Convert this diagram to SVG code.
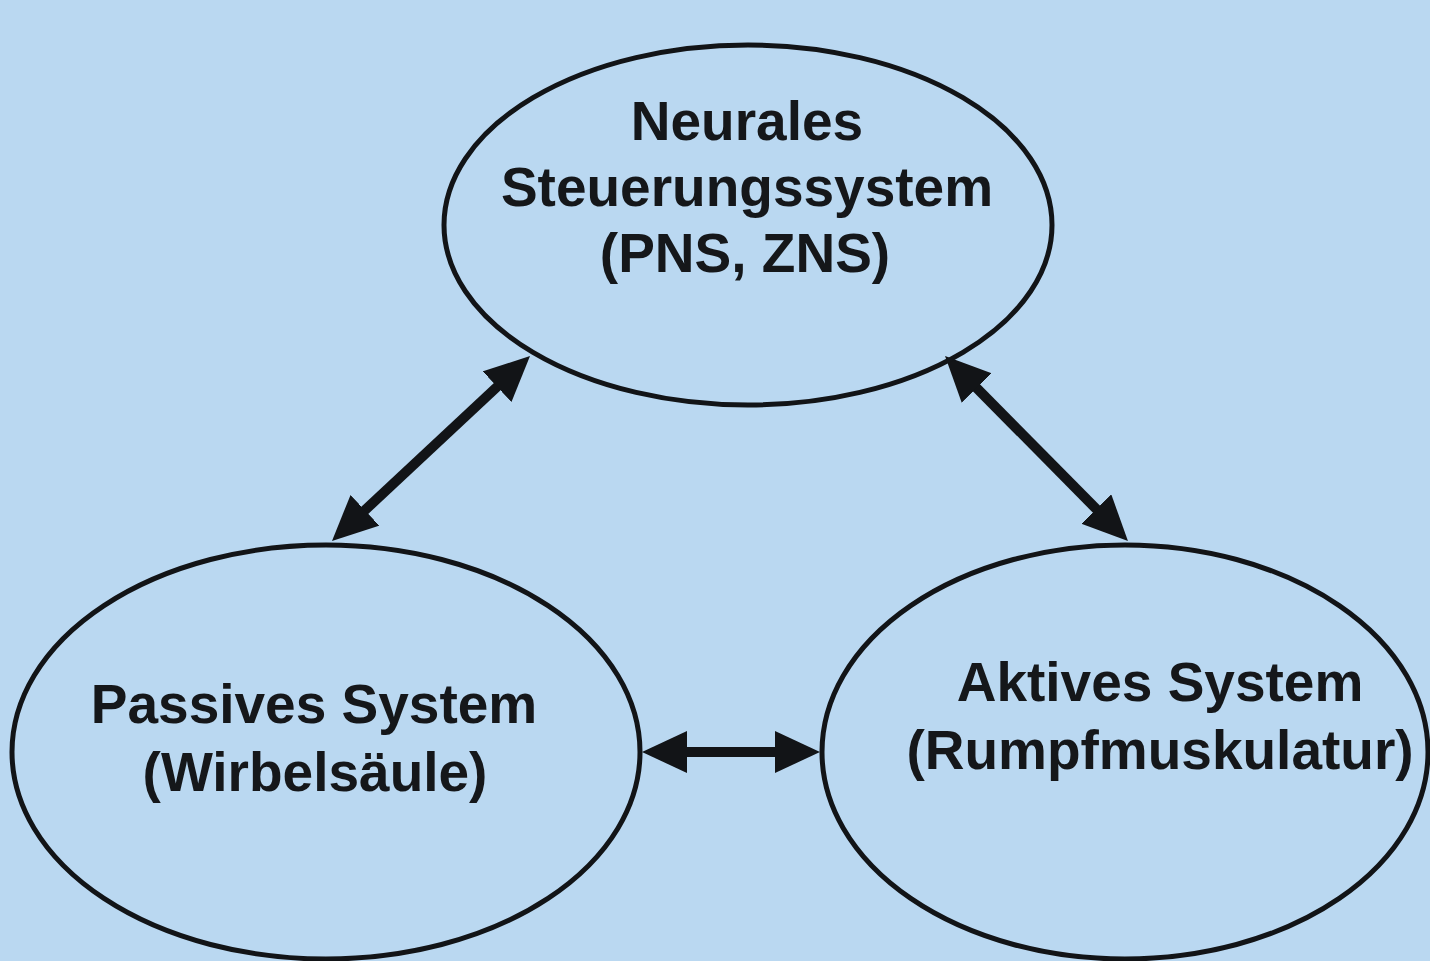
<svg xmlns="http://www.w3.org/2000/svg" width="1430" height="961" viewBox="0 0 1430 961">
<style>
.node{fill:none;stroke:#121417;stroke-width:5}
.lbl{font-family:"Liberation Sans",Arial,sans-serif;font-weight:bold;font-size:55px;fill:#15171a;text-anchor:middle}
.conn{stroke:#121417;stroke-width:10;fill:none;marker-start:url(#ah);marker-end:url(#ah)}
</style>
<defs>
<marker id="ah" markerUnits="userSpaceOnUse" markerWidth="46" markerHeight="44" refX="25" refY="21" orient="auto-start-reverse">
<path d="M0,0 L45,21 L0,42 z" fill="#121417"/>
</marker>
</defs>
<rect x="0" y="0" width="1430" height="961" fill="#bad8f1"/>
<g id="connectors">
<line class="conn" x1="346.6" y1="527.3" x2="515.4" y2="369.7"/>
<line class="conn" x1="959.1" y1="370.2" x2="1113.9" y2="526.8"/>
<line class="conn" x1="662" y1="752" x2="800" y2="752"/>
</g>
<g id="node-neural">
<ellipse class="node" cx="748" cy="225" rx="304" ry="180"/>
<text class="lbl" x="747" y="140">Neurales</text>
<text class="lbl" x="747" y="206">Steuerungssystem</text>
<text class="lbl" x="745" y="272">(PNS, ZNS)</text>
</g>
<g id="node-passiv">
<ellipse class="node" cx="326" cy="752" rx="314" ry="207"/>
<text class="lbl" x="314" y="723">Passives System</text>
<text class="lbl" x="315" y="791">(Wirbelsäule)</text>
</g>
<g id="node-aktiv">
<ellipse class="node" cx="1125" cy="752" rx="303" ry="207"/>
<text class="lbl" x="1160" y="701">Aktives System</text>
<text class="lbl" x="1160" y="769">(Rumpfmuskulatur)</text>
</g>
</svg>
